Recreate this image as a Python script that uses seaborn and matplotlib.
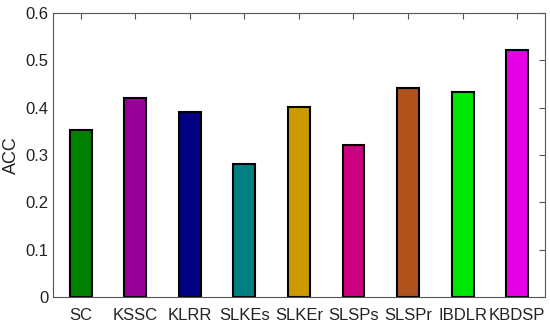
import pandas as pd
import seaborn as sns
import matplotlib.pyplot as plt

# data
methods = ['SC', 'KSSC', 'KLRR', 'SLKEs', 'SLKEr', 'SLSPs', 'SLSPr', 'IBDLR', 'KBDSP']
acc = [0.353, 0.420, 0.391, 0.281, 0.401, 0.321, 0.442, 0.433, 0.522]
colors = ['#008000', '#990099', '#000080', '#008080', '#CC9900',
          '#CC0080', '#B0521C', '#00E600', '#E600E6']

df = pd.DataFrame({'method': methods, 'acc': acc})

sns.set_style('white')
plt.rcParams['font.family'] = ['Liberation Sans', 'DejaVu Sans']

fig, ax = plt.subplots(figsize=(5.5, 3.27), dpi=100)
sns.barplot(data=df, x='method', y='acc', hue='method', palette=colors,
            saturation=1, width=0.4, edgecolor='black', linewidth=1.5,
            legend=False, ax=ax)

ax.set_xlim(-0.5, len(methods) - 0.5)
ax.set_ylim(0, 0.6)
ax.set_yticks([0, 0.1, 0.2, 0.3, 0.4, 0.5, 0.6])
ax.set_yticklabels(['0', '0.1', '0.2', '0.3', '0.4', '0.5', '0.6'])
ax.set_xlabel('')
ax.set_ylabel('ACC', fontsize=13, color='#222222')
ax.tick_params(axis='both', direction='in', top=True, right=True,
               labelsize=12, length=4, color='#555555', labelcolor='#222222')
ax.tick_params(axis='x', pad=8)
for s in ax.spines.values():
    s.set_color('#555555')
    s.set_linewidth(0.8)

fig.subplots_adjust(left=0.097, right=0.99, top=0.96, bottom=0.092)
fig.savefig('out.png')
